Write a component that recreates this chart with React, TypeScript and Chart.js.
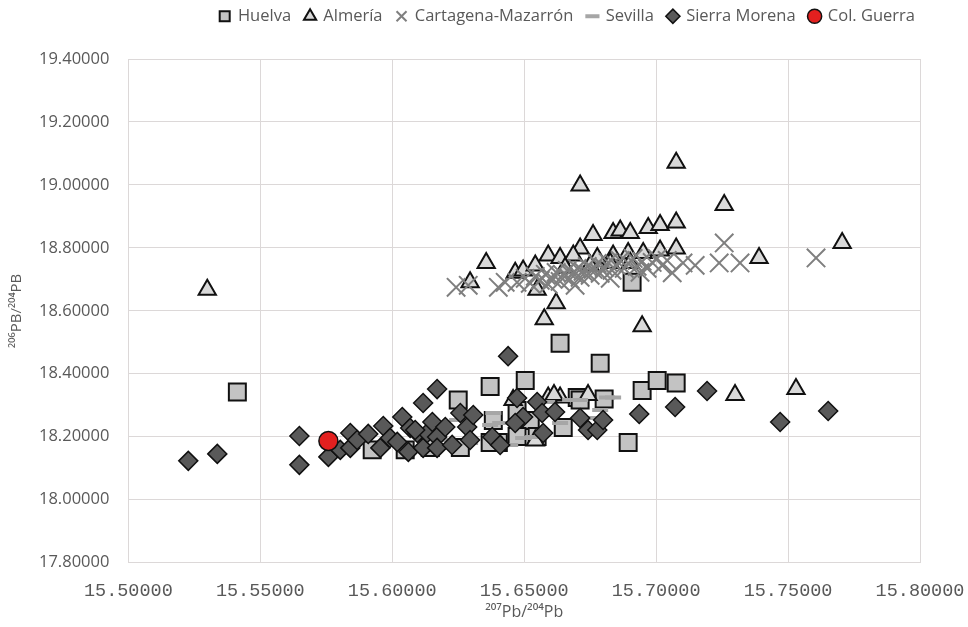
import React, { useEffect, useRef } from "react";
import { Chart, registerables } from "chart.js";

Chart.register(...registerables);

// ---- Data (207Pb/204Pb = x, 206Pb/204Pb = y) ----
const huelvaX = [15.5413, 15.5924, 15.625, 15.6371, 15.6504, 15.6636, 15.6788, 15.6909, 15.6947, 15.7004, 15.7076, 15.6894, 15.6383, 15.6473, 15.6523, 15.6549, 15.6701, 15.6803, 15.6258, 15.6402, 15.6648, 15.6473, 15.6712, 15.6371, 15.6144, 15.6049];
const huelvaY = [18.3418, 18.1581, 18.3165, 18.3593, 18.3783, 18.4971, 18.4337, 18.6904, 18.3466, 18.3783, 18.3703, 18.1818, 18.2515, 18.2832, 18.2515, 18.2008, 18.3244, 18.3196, 18.166, 18.1818, 18.2293, 18.2008, 18.3165, 18.1818, 18.166, 18.1581];

const almeriaX = [15.5299, 15.6712, 15.7076, 15.7258, 15.7705, 15.739, 15.6356, 15.6295, 15.6549, 15.6621, 15.6576, 15.6947, 15.6761, 15.6837, 15.6864, 15.6902, 15.697, 15.7015, 15.7076, 15.7076, 15.7015, 15.6951, 15.6894, 15.6837, 15.6777, 15.6712, 15.6591, 15.6636, 15.6686, 15.6466, 15.6496, 15.6542, 15.6655, 15.675, 15.6826, 15.6902, 15.7299, 15.753, 15.6458, 15.6636, 15.6742, 15.6591, 15.6613, 15.6542];
const almeriaY = [18.6666, 18.9977, 19.0706, 18.936, 18.8156, 18.768, 18.7522, 18.6904, 18.6666, 18.6238, 18.573, 18.551, 18.8409, 18.8473, 18.8552, 18.8473, 18.8631, 18.8727, 18.8805, 18.7981, 18.7918, 18.7839, 18.7839, 18.7759, 18.768, 18.7981, 18.7759, 18.768, 18.7759, 18.7205, 18.7284, 18.7443, 18.7364, 18.7443, 18.7522, 18.7522, 18.3323, 18.3513, 18.3165, 18.3244, 18.3323, 18.3244, 18.3323, 18.1882];

const cartagenaX = [15.6242, 15.6288, 15.6402, 15.6428, 15.7258, 15.7239, 15.7318, 15.7606, 15.7148, 15.7061, 15.7102, 15.6473, 15.6504, 15.6523, 15.6542, 15.6561, 15.658, 15.6591, 15.6606, 15.6621, 15.6636, 15.6648, 15.6663, 15.6674, 15.6686, 15.6701, 15.6712, 15.6723, 15.6739, 15.675, 15.6761, 15.6777, 15.6788, 15.6803, 15.6818, 15.6833, 15.6848, 15.6864, 15.6879, 15.6894, 15.6913, 15.6928, 15.6947, 15.6966, 15.6985, 15.7004, 15.7023, 15.7042, 15.6693, 15.6826, 15.6939];
const cartagenaY = [18.6745, 18.6809, 18.6745, 18.6904, 18.8156, 18.7522, 18.7522, 18.768, 18.7443, 18.7205, 18.7522, 18.6904, 18.7031, 18.6872, 18.7094, 18.6967, 18.7158, 18.684, 18.7031, 18.7221, 18.6935, 18.7126, 18.7284, 18.6999, 18.7189, 18.7348, 18.7062, 18.7253, 18.7411, 18.7126, 18.7316, 18.7506, 18.7189, 18.7379, 18.7538, 18.7284, 18.7443, 18.7601, 18.7348, 18.7506, 18.7665, 18.7411, 18.757, 18.7348, 18.7538, 18.7665, 18.7443, 18.7601, 18.6809, 18.7031, 18.7221];

const sevillaX = [15.6587, 15.6674, 15.6814, 15.6837, 15.675, 15.6636, 15.6534, 15.6496, 15.6371, 15.6295, 15.6246, 15.6383, 15.6712, 15.6409, 15.6182, 15.6447, 15.6788];
const sevillaY = [18.3102, 18.3165, 18.3244, 18.3244, 18.2595, 18.2436, 18.1992, 18.1961, 18.2373, 18.1802, 18.2531, 18.2753, 18.3165, 18.2436, 18.1897, 18.1739, 18.2848];

const sierraX = [15.5227, 15.5337, 15.5648, 15.5648, 15.5758, 15.5803, 15.5841, 15.5841, 15.5867, 15.5909, 15.5966, 15.5955, 15.5992, 15.6019, 15.6038, 15.6061, 15.6068, 15.6095, 15.6117, 15.6117, 15.6133, 15.6152, 15.617, 15.617, 15.617, 15.6201, 15.6227, 15.6258, 15.6284, 15.6307, 15.6379, 15.6439, 15.6473, 15.6496, 15.6466, 15.6549, 15.6568, 15.6617, 15.6572, 15.6712, 15.6742, 15.6777, 15.6799, 15.6936, 15.7072, 15.7193, 15.747, 15.7652, 15.6087, 15.6295, 15.6409];
const sierraY = [18.1232, 18.1454, 18.2024, 18.1105, 18.1359, 18.1581, 18.2119, 18.1644, 18.1897, 18.2088, 18.2341, 18.1644, 18.1961, 18.1834, 18.2626, 18.1517, 18.2278, 18.2119, 18.307, 18.1644, 18.2119, 18.2468, 18.3513, 18.1992, 18.1644, 18.2309, 18.1739, 18.2753, 18.2309, 18.269, 18.1992, 18.4559, 18.3228, 18.2626, 18.2436, 18.3102, 18.2753, 18.2785, 18.2119, 18.2595, 18.2214, 18.2214, 18.2531, 18.2721, 18.2943, 18.345, 18.2468, 18.2816, 18.2214, 18.1897, 18.1739];

const guerraX = [15.5758];
const guerraY = [18.1866];

const seriesNames = ["Huelva", "Almería", "Cartagena-Mazarrón", "Sevilla", "Sierra Morena", "Col. Guerra"];
const xTitle = "²⁰⁷Pb/²⁰⁴Pb";
const yTitle = "²⁰⁶PB/²⁰⁴PB";

function zip(xs: number[], ys: number[]) {
  return xs.map((x, i) => ({ x, y: ys[i] }));
}

const TXT = "#595959";
const GRID = "#dcd8d8";

export default function App() {
  const ref = useRef<HTMLCanvasElement | null>(null);

  useEffect(() => {
    if (!ref.current) return;
    const legendPlacer = {
      id: "legendPlacer",
      afterInit(chart: any) {
        const lg = chart.legend;
        if (lg) {
          const orig = lg.fit;
          lg.fit = function () {
            orig.call(this);
            this.height += 18.5;
          };
        }
      },
      afterLayout(chart: any) {
        const lg = chart.legend;
        if (lg) {
          const w = lg.right - lg.left;
          lg.right = 929;
          lg.left = 929 - w;
          lg.top -= 6;
          lg.bottom -= 6;
        }
      },
    };
    const mk = (label: string, xs: number[], ys: number[], style: any, order: number) => ({
      label,
      data: zip(xs, ys),
      showLine: false,
      order,
      ...style,
    });
    const chart = new Chart(ref.current, {
      type: "scatter",
      data: {
        datasets: [
          mk(seriesNames[0], huelvaX, huelvaY, {
            pointStyle: "rect", pointRadius: 12, backgroundColor: "#c3c3c3", borderColor: "#111", pointBorderWidth: 2, borderWidth: 2,
          }, 6),
          mk(seriesNames[1], almeriaX, almeriaY, {
            pointStyle: "triangle", pointRadius: 10, backgroundColor: "#d9d9d9", borderColor: "#111", pointBorderWidth: 2, borderWidth: 2,
          }, 5),
          mk(seriesNames[2], cartagenaX, cartagenaY, {
            pointStyle: "crossRot", pointRadius: 13, backgroundColor: "#7f7f7f", borderColor: "#7f7f7f", pointBorderWidth: 2, borderWidth: 2,
          }, 4),
          mk(seriesNames[3], sevillaX, sevillaY, {
            pointStyle: "line", pointRadius: 8, backgroundColor: "#a6a6a6", borderColor: "#a6a6a6", pointBorderWidth: 4, borderWidth: 4,
          }, 3),
          mk(seriesNames[4], sierraX, sierraY, {
            pointStyle: "rectRot", pointRadius: 9.5, backgroundColor: "#595959", borderColor: "#111", pointBorderWidth: 1.5, borderWidth: 1.5,
          }, 2),
          mk(seriesNames[5], guerraX, guerraY, {
            pointStyle: "circle", pointRadius: 9.5, backgroundColor: "#e3201f", borderColor: "#111", pointBorderWidth: 1.5, borderWidth: 1.5,
          }, 1),
        ],
      },
      options: {
        animation: false,
        responsive: false,
        devicePixelRatio: 1,
        events: [],
        plugins: {
          tooltip: { enabled: false },
          legend: {
            display: true,
            position: "top",
            align: "end",
            labels: {
              usePointStyle: true,
              boxWidth: 10,
              boxHeight: 10,
              padding: 14,
              color: TXT,
              font: { family: "Open Sans", size: 16.5 },
              sort: (a: any, b: any) => a.datasetIndex - b.datasetIndex,
            },
          },
        },
        scales: {
          x: {
            type: "linear",
            min: 15.5,
            max: 15.8,
            afterFit: (s: any) => {
              s.paddingRight = 48;
            },
            ticks: {
              stepSize: 0.05,
              autoSkip: false,
              maxRotation: 0,
              padding: 17,
              color: TXT,
              font: { family: "Liberation Mono", size: 18.5 },
              callback: (v: any) => Number(v).toFixed(5),
            },
            grid: { color: GRID, drawTicks: false },
            border: { color: GRID },
            title: {
              display: true,
              text: xTitle,
              color: TXT,
              font: { family: "Open Sans", size: 16 },
              padding: { top: -16, bottom: 5 },
            },
          },
          y: {
            type: "linear",
            min: 17.8,
            max: 19.4,
            ticks: {
              stepSize: 0.2,
              autoSkip: false,
              padding: 19,
              color: TXT,
              font: { family: "Open Sans", size: 16.5 },
              callback: (v: any) => Number(v).toFixed(5),
            },
            grid: { color: GRID, drawTicks: false },
            border: { color: GRID },
            title: {
              display: true,
              text: yTitle,
              color: TXT,
              font: { family: "Open Sans", size: 15 },
              padding: { top: 8, bottom: -6 },
            },
          },
        },
      },
      plugins: [legendPlacer],
    } as any);
    return () => chart.destroy();
  }, []);

  return (
    <div style={{ position: "absolute", left: 0, top: 0, width: 968, height: 627, background: "#fff" }}>
      <canvas ref={ref} width={968} height={627} />
    </div>
  );
}
